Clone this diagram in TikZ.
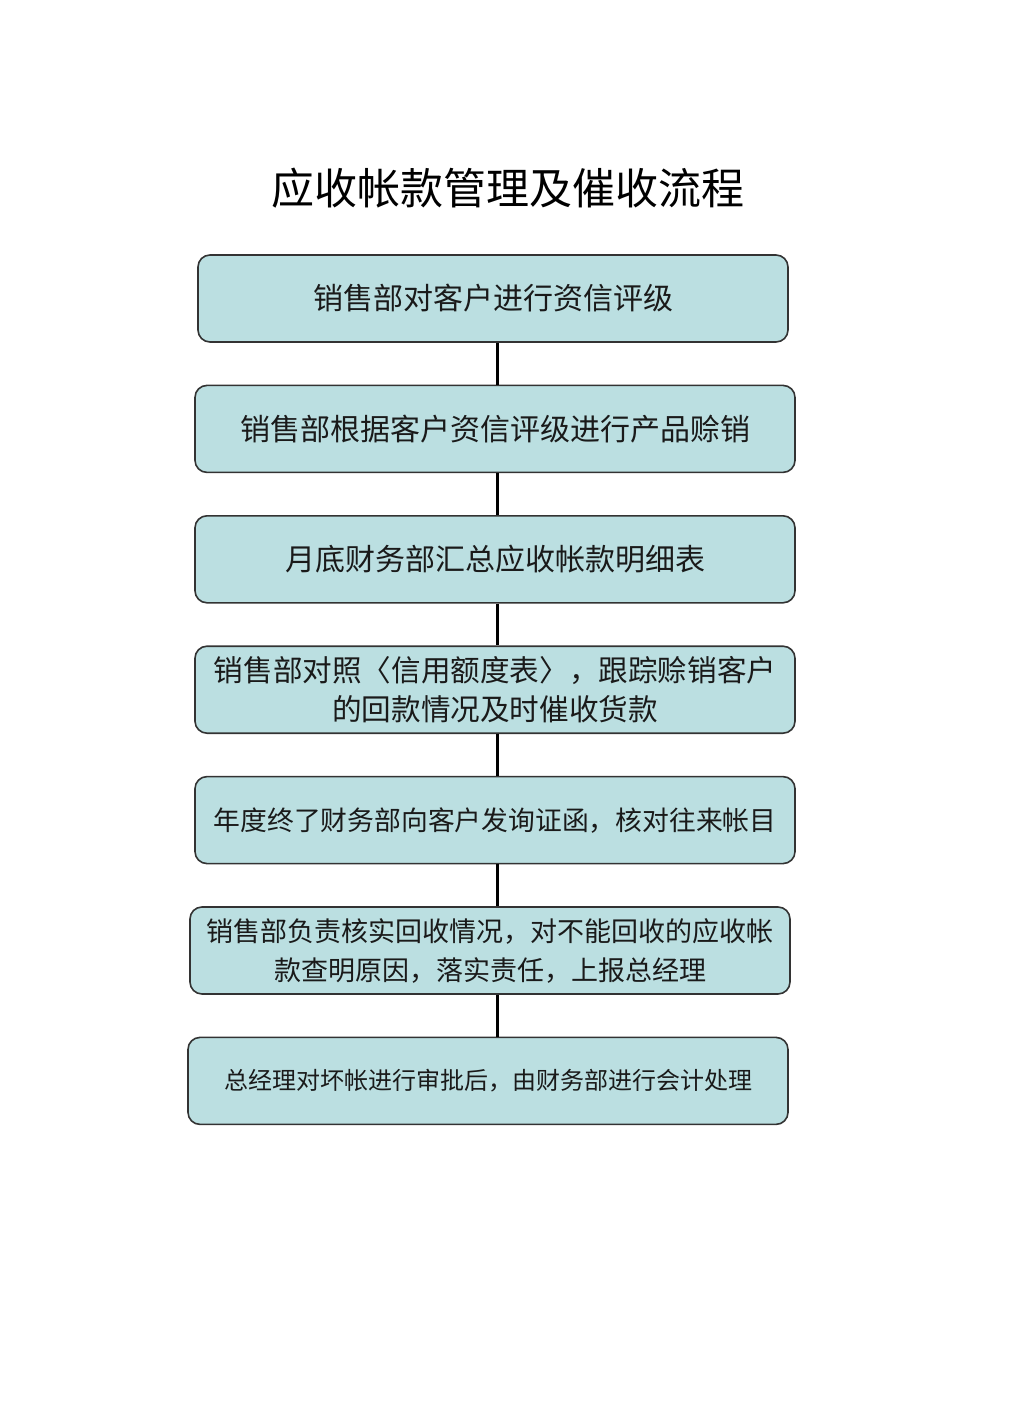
\documentclass[tikz,border=0pt]{standalone}
\usepackage{fontspec}
\usepackage{xcolor}
\usepackage{tikz}
\usetikzlibrary{
  positioning,
  calc
}
\setmainfont{Noto Sans CJK SC}
\definecolor{arFill}{HTML}{BBDFE1}
\definecolor{arLine}{HTML}{333333}
\definecolor{arText}{HTML}{1A1A1A}
\tikzset{
  arnode/.style={
    draw=arLine, line width=0.8pt, rounded corners=6pt, fill=arFill,
    minimum height=43.5pt, minimum width=300pt, align=center,
    text=arText, inner sep=2pt
  },
  arfont/.style={font=\fontsize{#1}{19.5}\selectfont},
  link/.style={line width=1.5pt, black},
  title/.style={font=\fontsize{21.5}{26}\selectfont, text=black}
}

\begin{document}
\begin{tikzpicture}[node distance=20.9pt]
  \useasboundingbox[fill=white] (0,0) rectangle (509pt,-714pt);
  \node[title] (t) at (254pt,-94pt) {应收帐款管理及催收流程};
  \node[arnode, arfont=15, minimum width=295pt] (s1) at (246.5pt,-149.25pt) {销售部对客户进行资信评级};
  \node[arnode, arfont=15, below=of s1, xshift=1pt] (s2) {销售部根据客户资信评级进行产品赊销};
  \node[arnode, arfont=15, below=of s2] (s3) {月底财务部汇总应收帐款明细表};
  \node[arnode, arfont=14.8, below=of s3] (s4) {销售部对照〈信用额度表〉，跟踪赊销客户\\的回款情况及时催收货款};
  \node[arnode, arfont=13.4, below=of s4] (s5) {年度终了财务部向客户发询证函，核对往来帐目};
  \node[arnode, arfont=13.5, below=of s5, xshift=-2.5pt] (s6) {销售部负责核实回收情况，对不能回收的应收帐\\款查明原因，落实责任，上报总经理};
  \node[arnode, arfont=12, below=of s6, xshift=-1pt] (s7) {总经理对坏帐进行审批后，由财务部进行会计处理};
  \coordinate (lx) at (248.5pt,0);
  \foreach \a/\b in {s1/s2, s2/s3, s3/s4, s4/s5, s5/s6, s6/s7}
    \draw[link] (lx |- \a.south) -- (lx |- \b.north);
\end{tikzpicture}
\end{document}
